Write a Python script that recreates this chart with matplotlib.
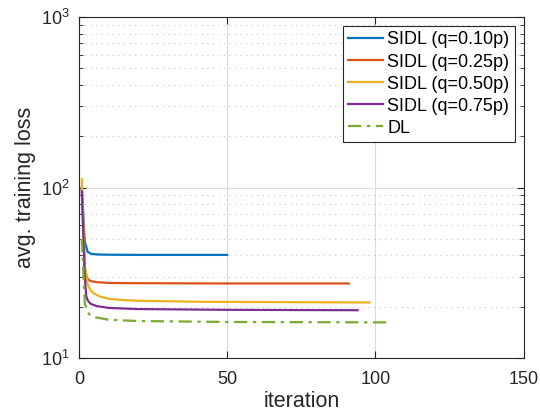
import numpy as np
import matplotlib
matplotlib.use("Agg")
import matplotlib.pyplot as plt
from matplotlib.ticker import LogLocator, FixedLocator

plt.rcParams['font.family'] = ['Liberation Sans', 'DejaVu Sans']
plt.rcParams['mathtext.fontset'] = 'custom'
plt.rcParams['mathtext.rm'] = 'Liberation Sans'

# sampled loss curves (iteration, avg. training loss)
it_q010 = [1, 2, 3, 4, 5, 7, 10, 20, 50]
loss_q010 = [100, 48, 42, 41, 40.7, 40.5, 40.4, 40.3, 40.3]

it_q025 = [1, 2, 3, 4, 6, 10, 20, 50, 91]
loss_q025 = [100, 33, 29, 28.3, 27.9, 27.6, 27.5, 27.4, 27.4]

it_q050 = [1, 2, 3, 4, 5, 7, 10, 15, 20, 40, 70, 98]
loss_q050 = [112, 35, 27, 25, 24, 23, 22.3, 21.9, 21.7, 21.4, 21.3, 21.2]

it_q075 = [1, 2, 2.5, 3, 4, 6, 10, 20, 50, 94]
loss_q075 = [95, 30, 23, 21.8, 20.8, 20.2, 19.7, 19.4, 19.2, 19.1]

it_dl = [1, 2, 3, 4, 6, 10, 20, 50, 105]
loss_dl = [50, 21, 18.5, 17.8, 17.3, 16.8, 16.5, 16.3, 16.2]

labels = ['SIDL (q=0.10p)', 'SIDL (q=0.25p)', 'SIDL (q=0.50p)',
          'SIDL (q=0.75p)', 'DL']

fig = plt.figure(figsize=(5.4, 4.15), dpi=100)
ax = fig.add_axes([0.146, 0.137, 0.824, 0.822])

lw = 1.6
ax.plot(it_q010, loss_q010, color='#0072BD', lw=lw, label=labels[0])
ax.plot(it_q025, loss_q025, color='#D95319', lw=lw, label=labels[1])
ax.plot(it_q050, loss_q050, color='#EDB120', lw=lw, label=labels[2])
ax.plot(it_q075, loss_q075, color='#7E2F8E', lw=lw, label=labels[3])
ax.plot(it_dl, loss_dl, color='#77AC30', lw=lw, ls=(0, (6, 2.5, 1.5, 2.5)),
        label=labels[4])

ax.set_yscale('log')
ax.set_xlim(0, 150)
ax.set_ylim(10, 1000)
ax.xaxis.set_major_locator(FixedLocator([0, 50, 100, 150]))
ax.yaxis.set_major_locator(LogLocator(base=10, numticks=5))
ax.yaxis.set_minor_locator(LogLocator(base=10, subs=np.arange(2, 10), numticks=10))

ax.grid(True, which='major', color='#dcdcdc', lw=0.8, ls='-')
ax.grid(True, which='minor', axis='y', color='#c8c8c8', lw=0.8, ls=(0, (1, 4)))
ax.set_axisbelow(True)

ax.tick_params(which='both', direction='in', top=True, right=True,
               labelsize=13, colors='#262626')
ax.tick_params(which='major', length=5)
ax.tick_params(which='minor', length=3)
ax.tick_params(axis='x', pad=9.5)
ax.tick_params(axis='y', pad=6.5)
for s in ax.spines.values():
    s.set_color('#262626')
    s.set_linewidth(0.8)

ax.set_xlabel('iteration', fontsize=15.5, color='#262626', labelpad=2)
ax.set_ylabel('avg. training loss', fontsize=15.5, color='#262626', labelpad=4)

leg = ax.legend(loc='upper right', fontsize=13, fancybox=False, framealpha=1,
                edgecolor='#262626', handlelength=1.9, handletextpad=0.25,
                labelspacing=0.28, borderpad=0.3, borderaxespad=0.5)
leg.get_frame().set_linewidth(0.8)

fig.savefig('out.png', dpi=100)
